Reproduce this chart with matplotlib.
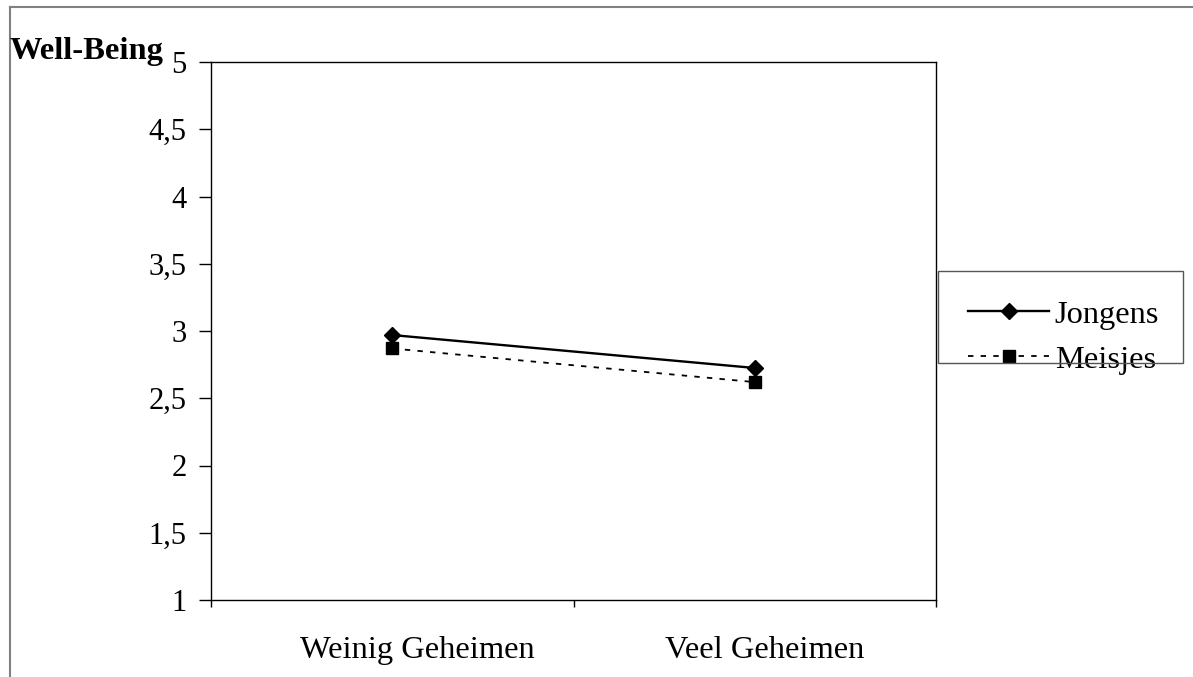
import matplotlib
matplotlib.use("Agg")
import matplotlib.pyplot as plt
from matplotlib.lines import Line2D
from matplotlib.patches import Rectangle
from matplotlib.transforms import ScaledTranslation

categories = ["Weinig Geheimen", "Veel Geheimen"]
jongens = [2.97, 2.725]
meisjes = [2.87, 2.62]
yticks = [1, 1.5, 2, 2.5, 3, 3.5, 4, 4.5, 5]
ytick_labels = ["1", "1,5", "2", "2,5", "3", "3,5", "4", "4,5", "5"]

plt.rcParams['font.family'] = ['Liberation Serif', 'DejaVu Serif']

fig = plt.figure(figsize=(11.93, 6.77), dpi=100)
W, H = 1193, 677
ax = fig.add_axes([211/W, 1 - 600/H, (936-211)/W, (600-62)/H])

x = [0.5, 1.5]
ax.plot(x, jongens, color='black', lw=1.7, marker='D', markersize=8, label='Jongens')
ax.plot(x, meisjes, color='black', lw=1.3, ls=(0, (3, 4)), marker='s', markersize=8.5, label='Meisjes')

ax.set_xlim(0, 2)
ax.set_ylim(1, 5)
ax.set_yticks(yticks)
ax.set_yticklabels(ytick_labels, fontsize=22)
ax.set_xticks([0, 1, 2])
ax.set_xticklabels([])
ax.set_xticks(x, minor=True)
ax.set_xticklabels(categories, minor=True, fontsize=23.4)
ax.tick_params(axis='x', which='minor', length=0, pad=26)
ax.tick_params(axis='x', which='major', direction='out', length=5, width=1)
ax.tick_params(axis='y', direction='out', length=8.5, width=1, pad=9)
# horizontal offsets of the category labels as rendered in the original
for lbl, dx in zip(ax.get_xticklabels(minor=True), [25, 10]):
    lbl.set_transform(lbl.get_transform() + ScaledTranslation(dx/100, 0, fig.dpi_scale_trans))
for s in ax.spines.values():
    s.set_linewidth(1)
    s.set_color('black')

fig.text(10/W, 1 - 59/H, "Well-Being", fontsize=23.4, fontweight='bold', va='baseline', ha='left')

# legend frame
fig.add_artist(Rectangle((938/W, 1 - 363/H), (1183-938)/W, (363-271)/H, transform=fig.transFigure,
                         fill=False, edgecolor='#555555', lw=1, zorder=1))
leg = ax.legend(loc='upper left', bbox_to_anchor=(968/W, 1 - 300/H), bbox_transform=fig.transFigure,
                fontsize=23.4, frameon=False,
                handlelength=2.5, handletextpad=0.17, labelspacing=0.47, borderpad=0, borderaxespad=0)

# outer frame (top and left)
fig.add_artist(Line2D([10/W, 1], [1 - 7/H, 1 - 7/H], color='#808080', lw=1.5, transform=fig.transFigure))
fig.add_artist(Line2D([10/W, 10/W], [0, 1 - 7/H], color='#808080', lw=1.5, transform=fig.transFigure))

fig.savefig("out.png", dpi=100)
